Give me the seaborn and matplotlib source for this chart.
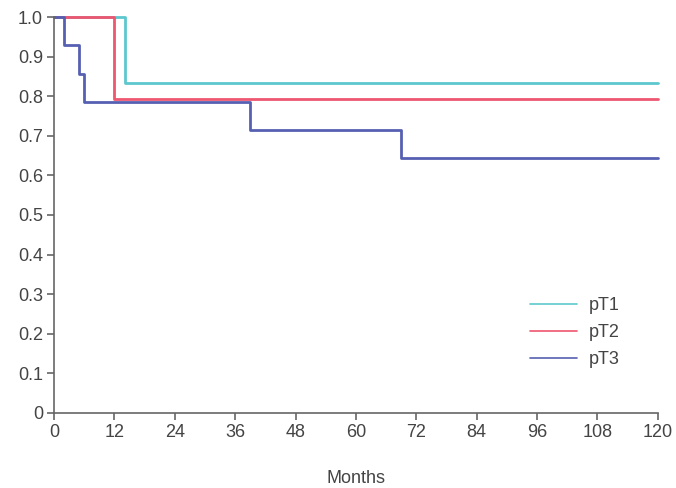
import matplotlib
matplotlib.use("Agg")
import matplotlib.pyplot as plt
import seaborn as sns
import pandas as pd

groups = ["pT1", "pT2", "pT3"]
pT1_months = [0, 14, 120]
pT1_surv = [1.0, 0.833, 0.833]
pT2_months = [0, 12, 120]
pT2_surv = [1.0, 0.792, 0.792]
pT3_months = [0, 2, 5, 6, 39, 69, 120]
pT3_surv = [1.0, 0.929, 0.857, 0.786, 0.714, 0.643, 0.643]
colors = ["#5cc8cd", "#ef5670", "#5660b2"]
x_ticks = [0, 12, 24, 36, 48, 60, 72, 84, 96, 108, 120]
y_ticks = [0, 0.1, 0.2, 0.3, 0.4, 0.5, 0.6, 0.7, 0.8, 0.9, 1.0]
y_labels = ["0", "0.1", "0.2", "0.3", "0.4", "0.5", "0.6", "0.7", "0.8", "0.9", "1.0"]

rows = []
for g, ms, ss in zip(groups, [pT1_months, pT2_months, pT3_months], [pT1_surv, pT2_surv, pT3_surv]):
    for m, s in zip(ms, ss):
        rows.append({"Months": m, "Survival": s, "Group": g})
df = pd.DataFrame(rows)

sns.set_style("white")
plt.rcParams["font.family"] = ["Liberation Sans", "DejaVu Sans"]

fig = plt.figure(figsize=(6.76, 4.88), dpi=100)
ax = fig.add_axes([0.08, 0.154, 0.893, 0.811])

sns.lineplot(data=df, x="Months", y="Survival", hue="Group", palette=colors,
             drawstyle="steps-post", estimator=None, sort=False, linewidth=2.0,
             ax=ax, legend=True)

ax.set_xlim(0, 120)
ax.set_ylim(0, 1.0)
ax.set_xticks(x_ticks)
ax.set_xticklabels([str(t) for t in x_ticks])
ax.set_yticks(y_ticks)
ax.set_yticklabels(y_labels)
ax.set_xlabel("Months", fontsize=13, color="#444444", labelpad=21)
ax.set_ylabel("")
for side in ["top", "right"]:
    ax.spines[side].set_visible(False)
for side in ["left", "bottom"]:
    ax.spines[side].set_color("#666666")
    ax.spines[side].set_linewidth(1.2)
ax.tick_params(axis="both", direction="out", length=5, width=1.2, color="#666666",
               labelsize=13, labelcolor="#444444", bottom=True, left=True, pad=3)
for l in ax.get_lines():
    l.set_clip_on(False)

leg = ax.legend(loc="upper left", bbox_to_anchor=(530 / 676, (488 - 297) / 488),
                bbox_transform=fig.transFigure, frameon=False, borderpad=0,
                borderaxespad=0, fontsize=13, handlelength=2.6, labelspacing=0.56,
                handletextpad=0.67, title=None)
for t in leg.get_texts():
    t.set_color("#444444")
for lh in leg.get_lines():
    lh.set_linewidth(1.2)

fig.savefig("out.png", dpi=100)
